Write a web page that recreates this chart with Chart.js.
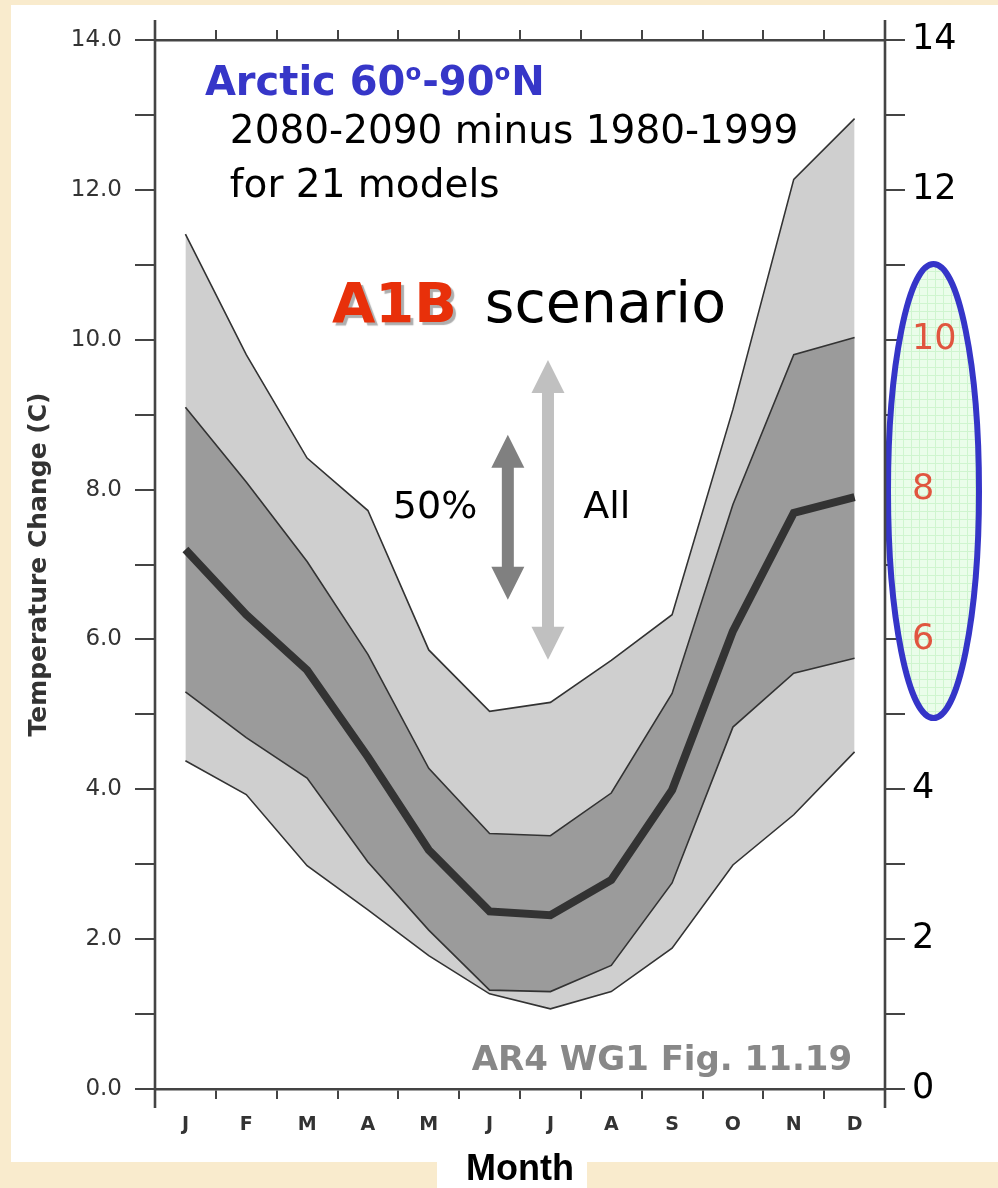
<!DOCTYPE html>
<html><head><meta charset="utf-8">
<script src="https://cdn.jsdelivr.net/npm/chart.js@4.4.1/dist/chart.umd.min.js"></script>
<style>html,body{margin:0;padding:0;background:#f9ebcd;} canvas{display:block;}</style>
</head><body>
<canvas id="c" width="998" height="1188"></canvas>
<script>
// ---- data ----
const months  = ['J','F','M','A','M','J','J','A','S','O','N','D'];
const allMax  = [11.41, 9.80, 8.42, 7.72, 5.86, 5.04, 5.16, 5.72, 6.33, 9.07, 12.14, 12.95];
const upper50 = [9.10, 8.10, 7.04, 5.80, 4.28, 3.41, 3.38, 3.95, 5.28, 7.80, 9.80, 10.03];
const median  = [7.20, 6.33, 5.59, 4.43, 3.19, 2.37, 2.32, 2.79, 3.99, 6.11, 7.69, 7.90];
const lower50 = [5.30, 4.69, 4.15, 3.03, 2.12, 1.32, 1.30, 1.65, 2.75, 4.83, 5.55, 5.75];
const allMin  = [4.38, 3.93, 2.98, 2.39, 1.78, 1.27, 1.07, 1.30, 1.88, 2.99, 3.66, 4.50];
const leftTickLabels  = {0:'0.0',2:'2.0',4:'4.0',6:'6.0',8:'8.0',10:'10.0',12:'12.0',14:'14.0'};
const rightTickLabels = {0:'0',2:'2',4:'4',6:'6',8:'8',10:'10',12:'12',14:'14'};
const highlightedRight = [6, 8, 10];

const AX = '#444';
const COMIC = "'Comic Sans MS','DejaVu Sans',sans-serif";

const bgPlugin = {
  id: 'bg',
  beforeDraw(chart) {
    const ctx = chart.ctx; ctx.save();
    ctx.fillStyle = '#f9ebcd'; ctx.fillRect(0, 0, chart.width, chart.height);
    ctx.fillStyle = '#ffffff';
    ctx.fillRect(11, 5, chart.width - 11, 1157);
    ctx.fillRect(437, 1162, 150, 26);
    ctx.restore();
  }
};

function makePattern(ctx) {
  const p = document.createElement('canvas'); p.width = 8; p.height = 8;
  const g = p.getContext('2d');
  g.fillStyle = '#eafdea'; g.fillRect(0, 0, 8, 8);
  g.fillStyle = '#cff5cf'; g.fillRect(0, 7, 8, 1); g.fillRect(7, 0, 1, 8);
  return ctx.createPattern(p, 'repeat');
}

const ellipsePlugin = {
  id: 'ellipse',
  beforeDatasetsDraw(chart) {
    const ctx = chart.ctx, y2 = chart.scales.y2, a = chart.chartArea;
    const top = y2.getPixelForValue(11.01), bot = y2.getPixelForValue(4.95);
    const cy = (top + bot) / 2, ry = (bot - top) / 2;
    const cx = a.right + 48.5, rx = 45.5;
    ctx.save();
    ctx.beginPath(); ctx.ellipse(cx, cy, rx, ry, 0, 0, Math.PI * 2);
    ctx.fillStyle = makePattern(ctx); ctx.fill();
    ctx.lineWidth = 6; ctx.strokeStyle = '#3535c8'; ctx.stroke();
    ctx.restore();
  }
};

const framePlugin = {
  id: 'frame',
  afterDraw(chart) {
    const ctx = chart.ctx, a = chart.chartArea;
    ctx.save(); ctx.strokeStyle = AX; ctx.lineWidth = 2.6;
    [a.left, a.right].forEach(xx => {
      ctx.beginPath(); ctx.moveTo(xx, a.top - 20); ctx.lineTo(xx, a.bottom + 19); ctx.stroke();
    });
    ctx.restore();
  }
};

function arrow(ctx, x, yTop, yBot, color, shaft, headW, headL) {
  ctx.save(); ctx.fillStyle = color; ctx.beginPath();
  ctx.moveTo(x, yTop);
  ctx.lineTo(x + headW / 2, yTop + headL);
  ctx.lineTo(x + shaft / 2, yTop + headL);
  ctx.lineTo(x + shaft / 2, yBot - headL);
  ctx.lineTo(x + headW / 2, yBot - headL);
  ctx.lineTo(x, yBot);
  ctx.lineTo(x - headW / 2, yBot - headL);
  ctx.lineTo(x - shaft / 2, yBot - headL);
  ctx.lineTo(x - shaft / 2, yTop + headL);
  ctx.lineTo(x - headW / 2, yTop + headL);
  ctx.closePath(); ctx.fill(); ctx.restore();
}

const annotPlugin = {
  id: 'annot',
  afterDatasetsDraw(chart) {
    const ctx = chart.ctx, xs = chart.scales.x, ys = chart.scales.y;
    const px = v => xs.getPixelForValue(v), py = v => ys.getPixelForValue(v);
    ctx.save();
    ctx.textAlign = 'left'; ctx.textBaseline = 'alphabetic';
    let x = px(0.32); const b1 = py(13.27);
    ctx.fillStyle = '#3636c8';
    const big = 'bold 40px ' + COMIC, sm = 'bold 23px ' + COMIC;
    const parts = [['Arctic 60', big, 0], ['o', sm, -15], ['-90', big, 0], ['o', sm, -15], ['N', big, 0]];
    parts.forEach(([t, f, dy]) => { ctx.font = f; ctx.fillText(t, x, b1 + dy); x += ctx.measureText(t).width + (f === sm ? 1 : 0); });
    ctx.fillStyle = '#000'; ctx.font = '39px ' + COMIC;
    ctx.fillText('2080-2090 minus 1980-1999', px(0.73), py(12.62));
    ctx.fillText('for 21 models', px(0.73), py(11.90));
    ctx.save();
    ctx.font = 'bold 56px ' + COMIC; ctx.fillStyle = '#e8300a';
    ctx.shadowColor = 'rgba(140,140,140,0.7)'; ctx.shadowOffsetX = 3; ctx.shadowOffsetY = 3; ctx.shadowBlur = 1;
    ctx.fillText('A1B', px(2.41), py(10.24));
    ctx.restore();
    ctx.font = '57px ' + COMIC; ctx.fillStyle = '#000';
    ctx.fillText('scenario', px(4.92), py(10.24));
    arrow(ctx, px(5.96), py(9.73), py(5.73), '#c0c0c0', 12, 33, 33);
    arrow(ctx, px(5.30), py(8.73), py(6.53), '#808080', 12, 33, 33);
    ctx.font = '38px ' + COMIC; ctx.fillStyle = '#000';
    ctx.fillText('50%', px(3.41), py(7.62));
    ctx.fillText('All', px(6.54), py(7.62));
    ctx.font = 'bold 34px ' + COMIC; ctx.fillStyle = '#888'; ctx.textAlign = 'right';
    ctx.fillText('AR4 WG1 Fig. 11.19', px(10.96), py(0.25));
    ctx.restore();
  }
};

const gridCommon = { drawOnChartArea: false, color: AX, lineWidth: 2 };

new Chart(document.getElementById('c'), {
  type: 'line',
  data: {
    labels: months,
    datasets: [
      { label: 'Median', data: median, order: 0, borderColor: '#333', borderWidth: 8, fill: false, borderJoinStyle: 'miter', borderCapStyle: 'butt' },
      { label: 'Upper 50%', data: upper50, order: 1, borderColor: '#333', borderWidth: 1.6, fill: 2, backgroundColor: '#9b9b9b' },
      { label: 'Lower 50%', data: lower50, order: 2, borderColor: '#333', borderWidth: 1.6, fill: false },
      { label: 'All max', data: allMax, order: 3, borderColor: '#333', borderWidth: 1.6, fill: 4, backgroundColor: '#cfcfcf' },
      { label: 'All min', data: allMin, order: 4, borderColor: '#333', borderWidth: 1.6, fill: false }
    ]
  },
  options: {
    responsive: false, devicePixelRatio: 1, animation: false,
    layout: { padding: 0 },
    elements: { point: { radius: 0, hoverRadius: 0 }, line: { tension: 0 } },
    plugins: { legend: { display: false }, tooltip: { enabled: false }, filler: { drawTime: 'beforeDatasetsDraw' } },
    scales: {
      x: {
        type: 'category', position: 'bottom', offset: true,
        grid: { ...gridCommon, offset: true, tickLength: 10 },
        border: { display: true, color: AX, width: 2.6 },
        ticks: { color: '#333', font: { family: 'DejaVu Sans', size: 19, weight: 'bold' }, padding: 15, maxRotation: 0, autoSkip: false },
        title: { display: true, text: 'Month', color: '#000', font: { family: "'Liberation Sans',Arial,sans-serif", size: 36, weight: 'bold', lineHeight: 1 }, padding: { top: 0, bottom: 0 } },
        afterFit: s => { s.height = 99; }
      },
      xTop: {
        type: 'category', position: 'top', offset: true,
        grid: { ...gridCommon, offset: true, tickLength: 10 },
        border: { display: true, color: AX, width: 2.6 },
        ticks: { display: false },
        afterFit: s => { s.height = 40; }
      },
      y: {
        type: 'linear', position: 'left', min: 0, max: 14,
        grid: { ...gridCommon, tickLength: 20 },
        border: { display: false },
        ticks: { stepSize: 1, padding: 13, color: '#333', font: { family: 'DejaVu Sans', size: 23 },
                 callback: v => (v in leftTickLabels ? leftTickLabels[v] : '') },
        title: { display: true, text: 'Temperature Change (C)', color: '#333', font: { family: 'DejaVu Sans', size: 25, weight: 'bold', lineHeight: 1 }, padding: { top: 27, bottom: 0 } },
        afterFit: s => { s.width = 155; }
      },
      y2: {
        type: 'linear', position: 'right', min: 0, max: 14,
        grid: { ...gridCommon, tickLength: 20 },
        border: { display: false },
        ticks: { stepSize: 1, padding: 7, z: 1, font: { family: COMIC, size: 35 },
                 color: c => (highlightedRight.includes(c.tick && c.tick.value) ? '#e0553f' : '#000'),
                 callback: v => (v in rightTickLabels ? rightTickLabels[v] : '') },
        afterFit: s => { s.width = 113; }
      }
    }
  },
  plugins: [bgPlugin, ellipsePlugin, annotPlugin, framePlugin]
});
</script>
</body></html>
